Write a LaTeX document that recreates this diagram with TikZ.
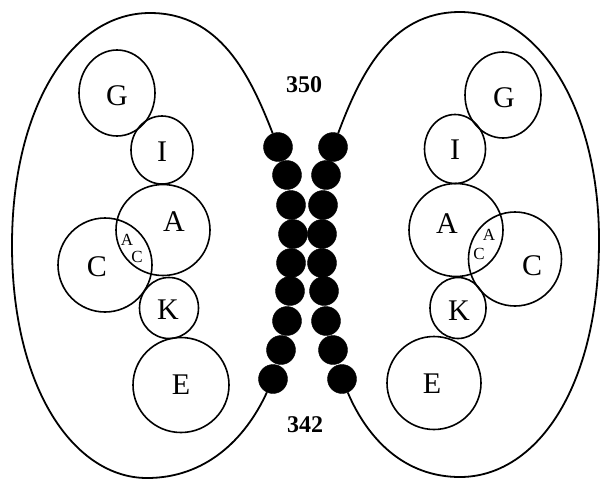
\documentclass[tikz,border=0pt]{standalone}
\usepackage{fontspec}
\setmainfont{Liberation Serif}
\usetikzlibrary{shapes.geometric}
\tikzset{
  bead/.style={circle, fill=black, draw=black, minimum size=29pt, inner sep=0pt},
  domainbox/.style={ellipse, draw, line width=1.6pt, inner sep=0pt},
  biglabel/.style={font=\fontsize{30}{30}\selectfont, inner sep=0pt},
  smalllabel/.style={font=\fontsize{17}{17}\selectfont, inner sep=0pt},
  numlabel/.style={font=\fontsize{24}{24}\selectfont\bfseries, inner sep=0pt},
  lobe/.style={line width=1.8pt}
}
\begin{document}
\begin{tikzpicture}[x=1pt, y=-1pt]
\useasboundingbox (0,0) rectangle (604,480);

% left helix beads
\foreach \i/\x/\y in {1/278/147, 2/287/175, 3/291/205, 4/293/234, 5/291/263,
                      6/290/291, 7/287/321, 8/281/350, 9/273/379}
  \node[bead] (lb\i) at (\x,\y) {};
% right helix beads
\foreach \i/\x/\y in {1/333/147, 2/326/175, 3/323/205, 4/322/234, 5/322/263,
                      6/324/291, 7/326/321, 8/333/350, 9/342/379}
  \node[bead] (rb\i) at (\x,\y) {};

% left lobe outline
\draw[lobe] (lb1) .. controls (250,75) and (220,13) .. (150,13)
  .. controls (70,13) and (12,110) .. (12,245)
  .. controls (12,390) and (75,478) .. (147,478)
  .. controls (205,478) and (245,440) .. (lb9);
% right lobe outline
\draw[lobe] (rb1) .. controls (360,75) and (390,12) .. (460,12)
  .. controls (540,12) and (599,110) .. (599,240)
  .. controls (599,390) and (535,477) .. (460,477)
  .. controls (405,477) and (368,440) .. (rb9);

% residue numbers
\node[numlabel] (n350) at (304,85) {350};
\node[numlabel] (n342) at (305,425) {342};

% left domains
\node[domainbox, minimum width=76pt, minimum height=86pt] (lG) at (117,93) {};
\node[domainbox, minimum width=62pt, minimum height=68pt] (lI) at (162,150) {};
\node[domainbox, minimum width=94pt, minimum height=91pt] (lA) at (163,230) {};
\node[domainbox, minimum width=94pt, minimum height=94pt] (lC) at (105,265) {};
\node[domainbox, minimum width=59pt, minimum height=61pt] (lK) at (169,308) {};
\node[domainbox, minimum width=96pt, minimum height=95pt] (lE) at (181,385) {};
\node[biglabel] (lGt) at (117,96) {G};
\node[biglabel] (lIt) at (162,152) {I};
\node[biglabel] (lAt) at (174,222) {A};
\node[biglabel] (lCt) at (97,267) {C};
\node[biglabel] (lKt) at (168,310) {K};
\node[biglabel] (lEt) at (181,385) {E};
\node[smalllabel] (lat) at (127,240) {A};
\node[smalllabel] (lct) at (137,257) {C};

% right domains
\node[domainbox, minimum width=76pt, minimum height=86pt] (rG) at (503,95) {};
\node[domainbox, minimum width=61pt, minimum height=69pt] (rI) at (455,149) {};
\node[domainbox, minimum width=94pt, minimum height=93pt] (rA) at (456,230) {};
\node[domainbox, minimum width=93pt, minimum height=94pt] (rC) at (515,259) {};
\node[domainbox, minimum width=56pt, minimum height=61pt] (rK) at (458,308) {};
\node[domainbox, minimum width=94pt, minimum height=93pt] (rE) at (434,383) {};
\node[biglabel] (rGt) at (504,98) {G};
\node[biglabel] (rIt) at (455,150) {I};
\node[biglabel] (rAt) at (447,224) {A};
\node[biglabel] (rCt) at (532,266) {C};
\node[biglabel] (rKt) at (459,311) {K};
\node[biglabel] (rEt) at (432,384) {E};
\node[smalllabel] (rat) at (489,235) {A};
\node[smalllabel] (rct) at (479,254) {C};
\end{tikzpicture}
\end{document}
